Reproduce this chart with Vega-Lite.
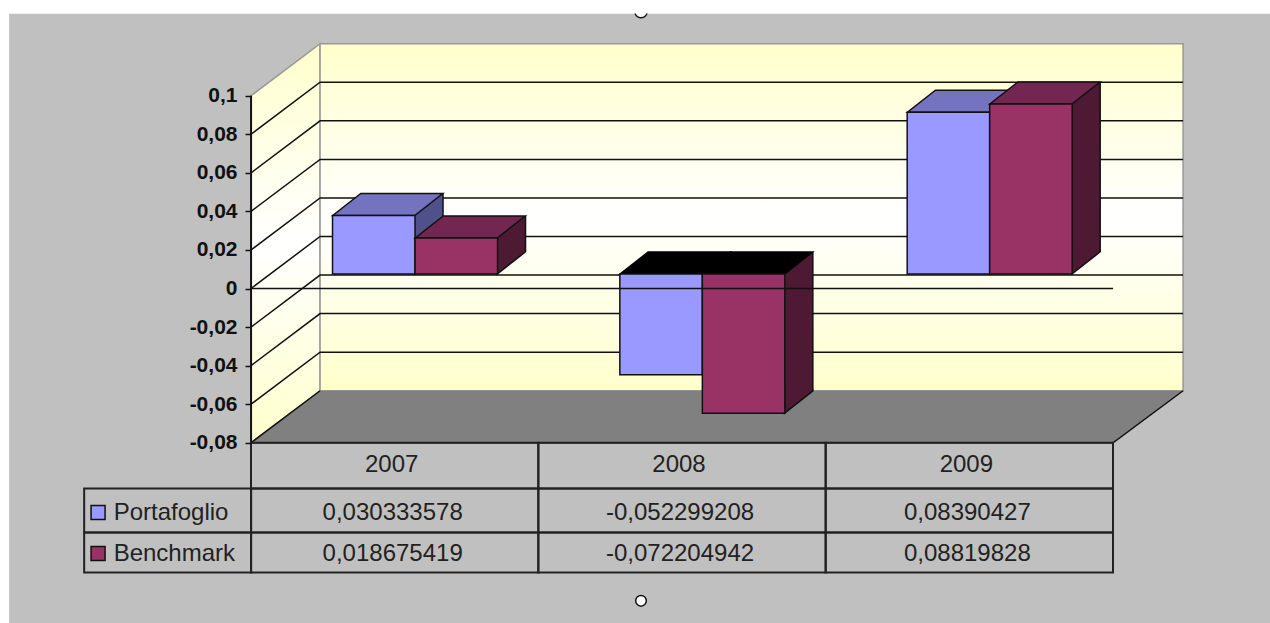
{
"$schema":"https://vega.github.io/schema/vega-lite/v6.json",
"width":1270,"height":623,"padding":0,"autosize":{"type":"none"},"background":"#FFFFFF",
"config":{"view":{"stroke":null},"axis":{"grid":false,"title":null},"font":"Liberation Sans"},
"datasets":{
"valori":[
{"year":"2007","serie":"Portafoglio","value":0.030333578},
{"year":"2008","serie":"Portafoglio","value":-0.052299208},
{"year":"2009","serie":"Portafoglio","value":0.08390427},
{"year":"2007","serie":"Benchmark","value":0.018675419},
{"year":"2008","serie":"Benchmark","value":-0.072204942},
{"year":"2009","serie":"Benchmark","value":0.08819828}],
"griglia":[{"tick":-0.06},{"tick":-0.04},{"tick":-0.02},{"tick":0},{"tick":0.02},{"tick":0.04},{"tick":0.06},{"tick":0.08}]
},
"data":{"name":"valori"},
"encoding":{
"x":{"field":"year","type":"nominal","scale":{"type":"band","domain":["2007","2008","2009"],"range":[251,1113],"paddingInner":0,"paddingOuter":0},
"axis":{"orient":"bottom","offset":-180,"domain":false,"ticks":false,"labelAngle":0,"labelFontSize":24,"labelFont":"Liberation Sans","labelColor":"#222222","labelPadding":9,"labelOffset":-3,"title":null,"grid":false,"zindex":1}},
"y":{"field":"value","type":"quantitative","scale":{"domain":[-0.17351,0.14965],"range":[623,0],"nice":false,"zero":false},
"axis":{"orient":"left","offset":-251,"values":[-0.08,-0.06,-0.04,-0.02,0,0.02,0.04,0.06,0.08,0.1],"labelExpr":"replace(''+datum.value,'.',',')","domain":false,"tickColor":"#111111","tickSize":6,"tickWidth":1.5,"labelFontSize":21,"labelFontWeight":"bold","labelFont":"Liberation Sans","labelColor":"#111111","labelPadding":8,"labelOverlap":false,"title":null,"grid":false,"zindex":1}}
},
"layer":[
{"transform":[{"filter":"datum.year=='2008'&&datum.serie=='Portafoglio'"}],"layer":[
{"mark":{"type":"rect","width":1261,"xOffset":-42.4,"fill":"#C0C0C0"},"encoding":{"y":{"datum":0.14265,"type":"quantitative"},"y2":{"datum":-0.17351}}},
{"mark":{"type":"point","shape":"circle","size":154,"filled":true,"fill":"#FFFFFF","stroke":"#111111","strokeWidth":1.5,"opacity":1,"xOffset":-41},"encoding":{"y":{"datum":0.1436,"type":"quantitative"}}},
{"mark":{"type":"rect","width":1270,"xOffset":-46.9,"fill":"#FFFFFF"},"encoding":{"y":{"datum":0.14965,"type":"quantitative"},"y2":{"datum":0.14265}}},
{"mark":{"type":"point","shape":"circle","size":113,"filled":true,"fill":"#FFFFFF","stroke":"#111111","strokeWidth":1.5,"opacity":1,"xOffset":-41},"encoding":{"y":{"datum":-0.1620,"type":"quantitative"}}}
]},
{"transform":[{"filter":"datum.year=='2007'&&datum.serie=='Portafoglio'"}],"layer":[
{"mark":{"type":"point","shape":"M0 0 L69 -52 L69 -399 L0 -347 Z","size":4,"filled":true,"opacity":1,"xOffset":-143.6,"stroke":"#999999","strokeWidth":1.5,"fill":{"gradient":"linear","x1":0,"y1":0,"x2":0,"y2":1,"stops":[{"offset":0,"color":"#FFFFCC"},{"offset":0.5,"color":"#FFFFFF"},{"offset":1,"color":"#FFFFCC"}]}},"encoding":{"y":{"datum":-0.08,"type":"quantitative"}}},
{"mark":{"type":"point","shape":"M69 -52 L932 -52 L932 -399 L69 -399 Z","size":4,"filled":true,"opacity":1,"xOffset":-143.6,"stroke":"#999999","strokeWidth":1.5,"fill":{"gradient":"linear","x1":0,"y1":0,"x2":0,"y2":1,"stops":[{"offset":0,"color":"#FFFFCC"},{"offset":0.5,"color":"#FFFFFF"},{"offset":1,"color":"#FFFFCC"}]}},"encoding":{"y":{"datum":-0.08,"type":"quantitative"}}}
]},
{"data":{"name":"griglia"},"mark":{"type":"point","shape":"M0 0 L69 -52 L932 -52","size":4,"filled":false,"fill":"transparent","stroke":"#111111","strokeWidth":1.5,"opacity":1,"xOffset":-143.6},"encoding":{"x":{"datum":"2007","type":"nominal"},"y":{"field":"tick","type":"quantitative"}}},
{"transform":[{"filter":"datum.year=='2007'&&datum.serie=='Portafoglio'"}],"layer":[
{"mark":{"type":"point","shape":"M932 -52 L862 0 L0 0 L69 -52","size":4,"filled":true,"opacity":1,"fill":"#808080","stroke":"#111111","strokeWidth":1.5,"xOffset":-143.6},"encoding":{"y":{"datum":-0.08,"type":"quantitative"}}},
{"mark":{"type":"rule","xOffset":-143.6,"stroke":"#111111","strokeWidth":2},"encoding":{"y":{"datum":0.1,"type":"quantitative"},"y2":{"datum":-0.08}}}
]},
{"transform":[{"filter":"datum.serie=='Portafoglio'"}],"mark":{"type":"rect","fill":"transparent","stroke":"#222222","strokeWidth":2},"encoding":{"y":{"datum":-0.08,"type":"quantitative"},"y2":{"datum":-0.10374}}},
{"transform":[{"filter":"datum.serie=='Portafoglio'"}],"mark":{"type":"rect","fill":"transparent","stroke":"#222222","strokeWidth":2},"encoding":{"y":{"datum":-0.10374,"type":"quantitative"},"y2":{"datum":-0.12657}}},
{"transform":[{"filter":"datum.serie=='Benchmark'"}],"mark":{"type":"rect","fill":"transparent","stroke":"#222222","strokeWidth":2},"encoding":{"y":{"datum":-0.12657,"type":"quantitative"},"y2":{"datum":-0.14732}}},
{"transform":[{"filter":"datum.year=='2007'&&datum.serie=='Portafoglio'"}],"mark":{"type":"rect","width":167,"xOffset":-227,"fill":"transparent","stroke":"#222222","strokeWidth":2},"encoding":{"y":{"datum":-0.10374,"type":"quantitative"},"y2":{"datum":-0.12657}}},
{"transform":[{"filter":"datum.year=='2007'&&datum.serie=='Benchmark'"}],"mark":{"type":"rect","width":167,"xOffset":-227,"fill":"transparent","stroke":"#222222","strokeWidth":2},"encoding":{"y":{"datum":-0.12657,"type":"quantitative"},"y2":{"datum":-0.14732}}},
{"transform":[{"filter":"datum.serie=='Portafoglio'"}],"mark":{"type":"text","fontSize":24,"font":"Liberation Sans","fill":"#222222","dx":-2,"baseline":"middle","text":{"expr":"replace(''+datum.value,'.',',')"}},"encoding":{"y":{"datum":-0.1162,"type":"quantitative"}}},
{"transform":[{"filter":"datum.serie=='Benchmark'"}],"mark":{"type":"text","fontSize":24,"font":"Liberation Sans","fill":"#222222","dx":-2,"baseline":"middle","text":{"expr":"replace(''+datum.value,'.',',')"}},"encoding":{"y":{"datum":-0.1375,"type":"quantitative"}}},
{"transform":[{"filter":"datum.year=='2007'&&datum.serie=='Portafoglio'"}],"layer":[
{"mark":{"type":"point","shape":"square","size":196,"filled":true,"opacity":1,"fill":"#9999FF","stroke":"#111111","strokeWidth":1.5,"xOffset":-296.6},"encoding":{"y":{"datum":-0.1162,"type":"quantitative"}}},
{"mark":{"type":"text","fontSize":24,"font":"Liberation Sans","fill":"#222222","align":"left","baseline":"middle","dx":-281},"encoding":{"text":{"field":"serie"},"y":{"datum":-0.1162,"type":"quantitative"}}}]},
{"transform":[{"filter":"datum.year=='2007'&&datum.serie=='Benchmark'"}],"layer":[
{"mark":{"type":"point","shape":"square","size":196,"filled":true,"opacity":1,"fill":"#993366","stroke":"#111111","strokeWidth":1.5,"xOffset":-296.6},"encoding":{"y":{"datum":-0.1375,"type":"quantitative"}}},
{"mark":{"type":"text","fontSize":24,"font":"Liberation Sans","fill":"#222222","align":"left","baseline":"middle","dx":-281},"encoding":{"text":{"field":"serie"},"y":{"datum":-0.1375,"type":"quantitative"}}}]},
{"transform":[{"filter":"datum.serie=='Portafoglio'"}],"layer":[
{"mark":{"type":"bar","width":82.5,"fill":"#50508A","xOffset":7.1,"yOffset":-36.5,"y2Offset":-36.5,"stroke":null},"encoding":{"y2":{"datum":0}}},
{"mark":{"type":"rule","stroke":"#111111","strokeWidth":1.5,"xOffset":48.35,"yOffset":-36.5,"y2Offset":-36.5},"encoding":{"y2":{"datum":0}}},
{"transform":[{"filter":"datum.value>=0"}],"mark":{"type":"point","shape":"M-41 0 L41 0 L69 -22 L-13 -22 Z","size":4,"filled":true,"opacity":1,"fill":"#7373BF","stroke":"#111111","strokeWidth":1.5,"xOffset":-20.9,"yOffset":-14.5}},
{"transform":[{"filter":"datum.value<0"}],"mark":{"type":"point","shape":"M-41 0 L41 0 L69 -22 L-13 -22 Z","size":4,"filled":true,"opacity":1,"fill":"#000000","stroke":"#000000","strokeWidth":1.5,"xOffset":-20.9,"yOffset":-14.5},"encoding":{"y":{"datum":0,"type":"quantitative"}}},
{"mark":{"type":"bar","width":82.5,"fill":"#9999FF","stroke":"#111111","strokeWidth":1.5,"xOffset":-20.9,"yOffset":-14.5,"y2Offset":-14.5},"encoding":{"y2":{"datum":0}}}
]},
{"transform":[{"filter":"datum.serie=='Benchmark'"}],"layer":[
{"mark":{"type":"bar","width":82.5,"fill":"#4D1933","xOffset":89.6,"yOffset":-36.5,"y2Offset":-36.5,"stroke":null},"encoding":{"y2":{"datum":0}}},
{"mark":{"type":"rule","stroke":"#111111","strokeWidth":1.5,"xOffset":130.85,"yOffset":-36.5,"y2Offset":-36.5},"encoding":{"y2":{"datum":0}}},
{"transform":[{"filter":"datum.value>=0"}],"mark":{"type":"point","shape":"M41 -24 L41 0 L69 -22 L69 -24","size":4,"filled":true,"opacity":1,"fill":"#4D1933","stroke":"#111111","strokeWidth":1.5,"xOffset":61.6,"yOffset":-14.5},"encoding":{"y":{"datum":0,"type":"quantitative"}}},
{"transform":[{"filter":"datum.value<0"}],"mark":{"type":"point","shape":"M41 -24 L41 0 L69 -22 L69 -24","size":4,"filled":true,"opacity":1,"fill":"#4D1933","stroke":"#111111","strokeWidth":1.5,"xOffset":61.6,"yOffset":-14.5}},
{"transform":[{"filter":"datum.value>=0"}],"mark":{"type":"point","shape":"M-41 0 L41 0 L69 -22 L-13 -22 Z","size":4,"filled":true,"opacity":1,"fill":"#732650","stroke":"#111111","strokeWidth":1.5,"xOffset":61.6,"yOffset":-14.5}},
{"transform":[{"filter":"datum.value<0"}],"mark":{"type":"point","shape":"M-41 0 L41 0 L69 -22 L-13 -22 Z","size":4,"filled":true,"opacity":1,"fill":"#000000","stroke":"#000000","strokeWidth":1.5,"xOffset":61.6,"yOffset":-14.5},"encoding":{"y":{"datum":0,"type":"quantitative"}}},
{"mark":{"type":"bar","width":82.5,"fill":"#993366","stroke":"#111111","strokeWidth":1.5,"xOffset":61.6,"yOffset":-14.5,"y2Offset":-14.5},"encoding":{"y2":{"datum":0}}}
]},
{"transform":[{"filter":"datum.year=='2007'&&datum.serie=='Portafoglio'"}],"mark":{"type":"point","shape":"M0 0 L862 0","size":4,"filled":false,"fill":"transparent","stroke":"#111111","strokeWidth":1.5,"opacity":1,"xOffset":-143.6},"encoding":{"y":{"datum":0,"type":"quantitative"}}}
]
}
